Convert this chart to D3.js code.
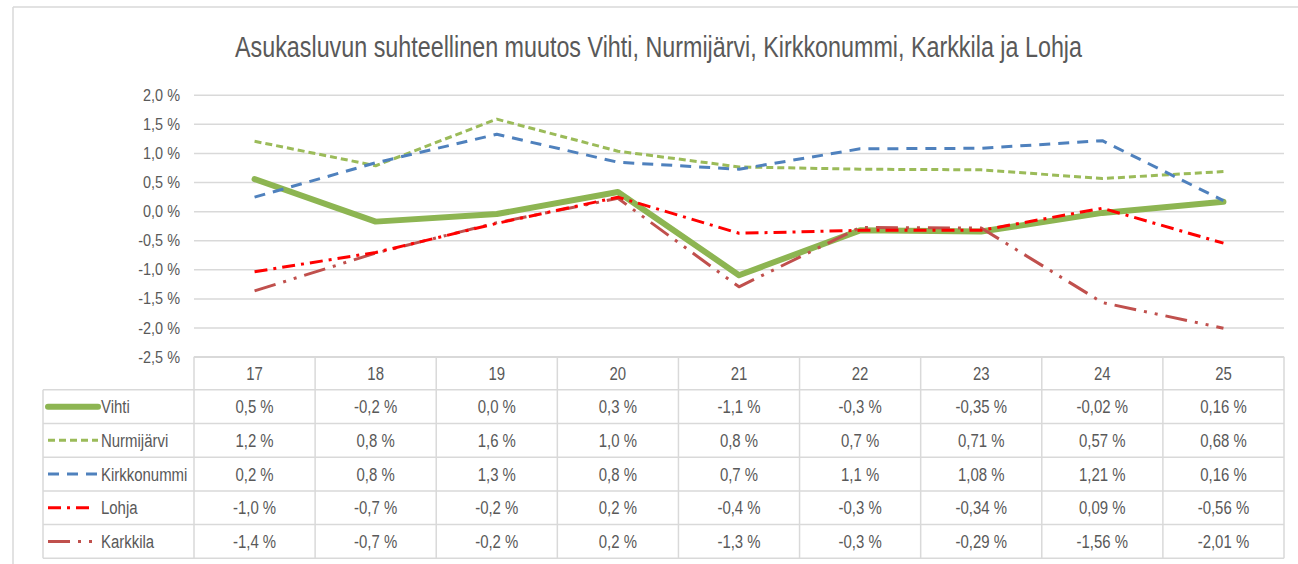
<!DOCTYPE html>
<html>
<head>
<meta charset="utf-8">
<script src="https://cdn.jsdelivr.net/npm/d3@7"></script>
<style>
  html, body { margin: 0; padding: 0; background: #fff; }
  svg { display: block; }
  text { font-family: "Liberation Sans Narrow", "Arial Narrow", "Liberation Sans", sans-serif; fill: #595959; }
</style>
</head>
<body>
<svg id="chart" width="1298" height="564"></svg>
<script>
const title = "Asukasluvun suhteellinen muutos Vihti, Nurmijärvi, Kirkkonummi, Karkkila ja Lohja";
const categories = ["17", "18", "19", "20", "21", "22", "23", "24", "25"];
const seriesNames = ["Vihti", "Nurmijärvi", "Kirkkonummi", "Lohja", "Karkkila"];

// plotted values (%)
const vihti       = [0.55, -0.18, -0.05, 0.33, -1.10, -0.33, -0.35, -0.03, 0.16];
const nurmijarvi  = [1.20, 0.78, 1.58, 1.03, 0.76, 0.72, 0.71, 0.56, 0.68];
const kirkkonummi = [0.24, 0.83, 1.32, 0.84, 0.72, 1.07, 1.08, 1.21, 0.18];
const lohja       = [-1.04, -0.71, -0.21, 0.24, -0.38, -0.33, -0.33, 0.05, -0.55];
const karkkila    = [-1.37, -0.72, -0.20, 0.22, -1.30, -0.28, -0.29, -1.57, -2.01];

// data table labels
const vihtiLabels       = ["0,5 %", "-0,2 %", "0,0 %", "0,3 %", "-1,1 %", "-0,3 %", "-0,35 %", "-0,02 %", "0,16 %"];
const nurmijarviLabels  = ["1,2 %", "0,8 %", "1,6 %", "1,0 %", "0,8 %", "0,7 %", "0,71 %", "0,57 %", "0,68 %"];
const kirkkonummiLabels = ["0,2 %", "0,8 %", "1,3 %", "0,8 %", "0,7 %", "1,1 %", "1,08 %", "1,21 %", "0,16 %"];
const lohjaLabels       = ["-1,0 %", "-0,7 %", "-0,2 %", "0,2 %", "-0,4 %", "-0,3 %", "-0,34 %", "0,09 %", "-0,56 %"];
const karkkilaLabels    = ["-1,4 %", "-0,7 %", "-0,2 %", "0,2 %", "-1,3 %", "-0,3 %", "-0,29 %", "-1,56 %", "-2,01 %"];

const yTicks = [2.0, 1.5, 1.0, 0.5, 0.0, -0.5, -1.0, -1.5, -2.0, -2.5];

const seriesValues = [vihti, nurmijarvi, kirkkonummi, lohja, karkkila];
const seriesLabels = [vihtiLabels, nurmijarviLabels, kirkkonummiLabels, lohjaLabels, karkkilaLabels];
const styles = [
  { color: "#8db552", width: 6, dash: null, keyEnd: 98 },
  { color: "#9bbb59", width: 3, dash: "7,4", keyEnd: 98 },
  { color: "#4f81bd", width: 3, dash: "11,8", keyEnd: 98 },
  { color: "#ff0000", width: 3, dash: "13,6,3,6", keyEnd: 89 },
  { color: "#c0504d", width: 3, dash: "22,8,3,8,3,8", keyEnd: 92 }
];

const svg = d3.select("#chart");
const L = 194, R = 1284, T = 94.7, B = 356.7;
const legL = 43;
const rowH = 33.7;
const headerTop = B, headerBot = 389.8;

const x = d3.scaleBand().domain(categories).range([L, R]);
const y = d3.scaleLinear().domain([-2.5, 2.0]).range([B, T]);

// narrow the glyphs (the reference uses a condensed face)
function condense(sel, ratio) {
  sel.each(function () {
    const w = this.getComputedTextLength();
    d3.select(this).attr("textLength", w * ratio).attr("lengthAdjust", "spacingAndGlyphs");
  });
}

// frame
svg.append("line").attr("x1", 13).attr("x2", 1298).attr("y1", 7).attr("y2", 7)
  .attr("stroke", "#d9d9d9").attr("stroke-width", 1.5);
svg.append("line").attr("x1", 13).attr("x2", 13).attr("y1", 7).attr("y2", 564)
  .attr("stroke", "#d9d9d9").attr("stroke-width", 1.5);

// title
svg.append("text").attr("x", 235).attr("y", 57)
  .attr("font-size", 29)
  .attr("textLength", 847).attr("lengthAdjust", "spacingAndGlyphs")
  .text(title);

// gridlines + y axis
const fmt = d => d.toFixed(1).replace(".", ",") + " %";
const yAxis = svg.append("g").attr("transform", `translate(${L},0)`)
  .call(d3.axisLeft(y).tickValues(yTicks).tickSize(-(R - L)).tickPadding(14).tickFormat(fmt));
yAxis.select(".domain").remove();
yAxis.selectAll(".tick line").attr("stroke", "#d9d9d9").attr("stroke-width", 1.5);
yAxis.selectAll(".tick text").attr("font-size", 17).attr("fill", "#595959")
  .style("font-family", '"Liberation Sans Narrow", "Arial Narrow", "Liberation Sans", sans-serif')
  .call(condense, 0.85);

// data table
const tbl = svg.append("g");
const gridColor = "#d9d9d9";
const bottom = headerBot + rowH * 5;
tbl.append("line").attr("x1", L).attr("x2", R).attr("y1", headerTop).attr("y2", headerTop)
  .attr("stroke", gridColor).attr("stroke-width", 1.5);
for (let i = 0; i <= 5; i++) {
  const yy = headerBot + i * rowH;
  tbl.append("line").attr("x1", legL).attr("x2", R).attr("y1", yy).attr("y2", yy)
    .attr("stroke", gridColor).attr("stroke-width", 1.5);
}
tbl.append("line").attr("x1", legL).attr("x2", legL).attr("y1", headerBot).attr("y2", bottom)
  .attr("stroke", gridColor).attr("stroke-width", 1.5);
categories.forEach(c => {
  tbl.append("line").attr("x1", x(c)).attr("x2", x(c)).attr("y1", headerTop).attr("y2", bottom)
    .attr("stroke", gridColor).attr("stroke-width", 1.5);
});
tbl.append("line").attr("x1", R).attr("x2", R).attr("y1", headerTop).attr("y2", bottom)
  .attr("stroke", gridColor).attr("stroke-width", 1.5);

// header labels
categories.forEach(c => {
  tbl.append("text").attr("x", x(c) + x.bandwidth() / 2).attr("y", (headerTop + headerBot) / 2)
    .attr("dy", "0.36em").attr("text-anchor", "middle").attr("font-size", 18).text(c)
    .call(condense, 0.83);
});

// rows
seriesNames.forEach((name, i) => {
  const cy = headerBot + rowH * (i + 0.5);
  const st = styles[i];
  tbl.append("line").attr("x1", 48).attr("x2", st.keyEnd).attr("y1", cy).attr("y2", cy)
    .attr("stroke", st.color).attr("stroke-width", st.width)
    .attr("stroke-linecap", i === 0 ? "round" : "butt")
    .attr("stroke-dasharray", st.dash);
  tbl.append("text").attr("x", 101).attr("y", cy).attr("dy", "0.36em")
    .attr("font-size", 18).text(name).call(condense, 0.83);
  seriesLabels[i].forEach((lab, j) => {
    tbl.append("text").attr("x", x(categories[j]) + x.bandwidth() / 2).attr("y", cy)
      .attr("dy", "0.36em").attr("text-anchor", "middle").attr("font-size", 18).text(lab)
      .call(condense, 0.83);
  });
});

// lines
const line = d3.line()
  .x((d, j) => x(categories[j]) + x.bandwidth() / 2)
  .y(d => y(d));
const drawOrder = [0, 1, 2, 4, 3];
drawOrder.forEach(i => {
  const st = styles[i];
  svg.append("path").datum(seriesValues[i])
    .attr("d", line)
    .attr("fill", "none")
    .attr("stroke", st.color)
    .attr("stroke-width", st.width)
    .attr("stroke-linejoin", "round")
    .attr("stroke-linecap", i === 0 ? "round" : "butt")
    .attr("stroke-dasharray", st.dash);
});
</script>
</body>
</html>
